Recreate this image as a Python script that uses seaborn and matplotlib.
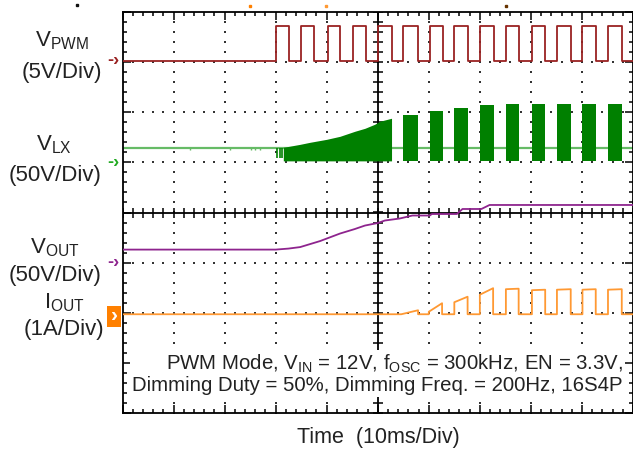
"""
Oscilloscope capture: PWM dimming start-up (VPWM, VLX, VOUT, IOUT).
Time axis in ms (10 ms/div), vertical axis in screen divisions.
"""
import numpy as np
import pandas as pd
import matplotlib
matplotlib.use('Agg')
import matplotlib.pyplot as plt
import matplotlib.transforms as mtransforms
from matplotlib.patches import Rectangle
from matplotlib.ticker import MultipleLocator
import seaborn as sns

# ============================================================================
# DATA (read off the capture)
# ============================================================================

# VPWM (5V/div): pulse edges in ms, levels in div
PWM_RISE_MS = [30.0, 35.0, 40.2, 45.1, 50.0, 54.9, 60.2, 65.0, 70.1, 75.2, 80.3, 85.2, 90.0, 95.1]
PWM_FALL_MS = [32.6, 37.5, 42.6, 47.7, 52.7, 57.8, 62.7, 67.6, 72.7, 77.7, 82.8, 87.9, 92.8, 97.9]
PWM_LOW = 3.03
PWM_HIGH = 3.73
PWM_GND = 3.03

# VLX (50V/div)
LX_GND = 1.0
LX_IDLE = 1.29
LX_FLOOR = 1.03
LX_SS_T = [31.5, 34.8, 36.7, 40.0, 42.6, 45.5, 47.5, 49.4, 50.4, 52.7]
LX_SS_TOP = [1.30, 1.36, 1.40, 1.46, 1.52, 1.62, 1.68, 1.76, 1.82, 1.88]
LX_BURST_START = [54.9, 60.2, 65.0, 70.1, 75.2, 80.3, 85.2, 90.0, 95.1]
LX_BURST_END = [57.8, 62.7, 67.6, 72.7, 77.7, 82.8, 87.9, 92.8, 97.8]
LX_BURST_TOP = [1.94, 2.02, 2.08, 2.14, 2.16, 2.16, 2.16, 2.16, 2.16]
LX_SPIKE_MS = [30.2, 30.9, 31.2]
LX_GLITCH_MS = [13.3, 21.1, 25.2, 25.9, 27.0]

# VOUT (50V/div)
VOUT_GND = -1.0
VOUT_T = [0, 30.0, 32.5, 34.8, 38.7, 42.6, 45.5, 47.5, 50.0, 51.4, 54.3, 56.8,
          60.2, 60.6, 65.5, 66.6, 70.3, 71.9, 100]
VOUT_V = [-0.74, -0.74, -0.72, -0.69, -0.57, -0.42, -0.33, -0.26, -0.21, -0.16, -0.12, -0.06,
          -0.06, -0.03, -0.03, 0.07, 0.07, 0.15, 0.15]

# IOUT (1A/div)
IOUT_GND = -2.04
IOUT_BASE = -2.03
IOUT_START = [54.6, 60.0, 65.0, 70.0, 75.1, 80.2, 85.1, 90.1, 95.1]
IOUT_END = [57.9, 62.6, 67.6, 72.6, 77.6, 82.8, 87.8, 92.7, 97.8]
IOUT_TOP_START = [-2.03, -1.98, -1.79, -1.64, -1.53, -1.55, -1.54, -1.54, -1.54]
IOUT_TOP_END = [-1.95, -1.81, -1.68, -1.51, -1.52, -1.54, -1.53, -1.53, -1.53]

# ============================================================================
# BUILD TRACES
# ============================================================================

t_pwm, v_pwm = [0.0], [PWM_LOW]
for r, f in zip(PWM_RISE_MS, PWM_FALL_MS):
    t_pwm += [r, r, f, f]
    v_pwm += [PWM_LOW, PWM_HIGH, PWM_HIGH, PWM_LOW]
t_pwm.append(100.0)
v_pwm.append(PWM_LOW)
df_pwm = pd.DataFrame({'t': t_pwm, 'v': v_pwm})

t_i, v_i = [0.0], [IOUT_BASE]
for s, e, a, b in zip(IOUT_START, IOUT_END, IOUT_TOP_START, IOUT_TOP_END):
    t_i += [s, s, e, e]
    v_i += [IOUT_BASE, a, b, IOUT_BASE]
t_i.append(100.0)
v_i.append(IOUT_BASE)
df_iout = pd.DataFrame({'t': t_i, 'v': v_i})

df_vout = pd.DataFrame({'t': VOUT_T, 'v': VOUT_V})

# ============================================================================
# FIGURE
# ============================================================================

sns.set_style('white')
plt.rcParams['font.family'] = ['Liberation Sans', 'DejaVu Sans']
plt.rcParams['mathtext.fontset'] = 'custom'
plt.rcParams['mathtext.rm'] = 'Liberation Sans'
plt.rcParams['mathtext.it'] = 'Liberation Sans:italic'
plt.rcParams['mathtext.bf'] = 'Liberation Sans:bold'

W, H = 633, 453
fig = plt.figure(figsize=(W / 100, H / 100), dpi=100)
L, R, T, B = 122.5, 633.0, 12.0, 413.0
ax = fig.add_axes([L / W, 1 - B / H, (R - L) / W, (B - T) / H])
ax.set_xlim(0, 100)
ax.set_ylim(-4, 4)


def px(x, y):
    return x / W, 1 - y / H


# grid dots + centre cross
minor_x = np.arange(0, 100.01, 2)
minor_y = np.arange(-4, 4.01, 0.2)
for xv in range(10, 100, 10):
    if xv != 50:
        ax.scatter(np.full(len(minor_y), xv), minor_y, s=1.6, marker='s',
                   color='#333333', linewidths=0, zorder=1)
for yv in range(-3, 4):
    if yv != 0:
        ax.scatter(minor_x, np.full(len(minor_x), yv), s=1.6, marker='s',
                   color='#333333', linewidths=0, zorder=1)
ax.axhline(0, color='black', lw=1.3, zorder=1)
ax.axvline(50, color='black', lw=1.3, zorder=1)
ax.plot(minor_x, np.zeros(len(minor_x)), ls='none', marker='|', ms=7,
        mew=1.1, color='black', zorder=1)
ax.plot(np.full(len(minor_y), 50), minor_y, ls='none', marker='_', ms=7,
        mew=1.1, color='black', zorder=1)

# border ticks
ax.xaxis.set_major_locator(MultipleLocator(10))
ax.xaxis.set_minor_locator(MultipleLocator(2))
ax.yaxis.set_major_locator(MultipleLocator(1))
ax.yaxis.set_minor_locator(MultipleLocator(0.2))
ax.tick_params(which='both', direction='in', top=True, right=True, bottom=True, left=True,
               labelbottom=False, labelleft=False, color='black', width=1.1)
ax.tick_params(which='major', length=6)
ax.tick_params(which='minor', length=3.2)
for sp in ax.spines.values():
    sp.set_color('black')
    sp.set_linewidth(1.3)

# VLX
ax.axhline(LX_IDLE, color='#66BB66', lw=1.6, zorder=2)
ax.vlines(LX_GLITCH_MS, LX_IDLE - 0.05, LX_IDLE + 0.02, color='#66BB66', lw=1, zorder=2)
ax.vlines(LX_SPIKE_MS, LX_FLOOR + 0.05, LX_IDLE, color='#008000', lw=1.2, zorder=3)
ax.fill_between(LX_SS_T, LX_FLOOR, LX_SS_TOP, color='#008000', lw=0, zorder=3)
for s, e, top in zip(LX_BURST_START, LX_BURST_END, LX_BURST_TOP):
    ax.fill_between([s, e], LX_FLOOR, top, color='#008000', lw=0, zorder=3)

# VPWM, VOUT, IOUT
sns.lineplot(data=df_pwm, x='t', y='v', ax=ax, color='#9A2222', lw=1.3,
             estimator=None, sort=False, zorder=4)
sns.lineplot(data=df_vout, x='t', y='v', ax=ax, color='#8E248E', lw=1.3,
             estimator=None, sort=False, zorder=4)
sns.lineplot(data=df_iout, x='t', y='v', ax=ax, color='#FF9933', lw=1.3,
             estimator=None, sort=False, zorder=4)
ax.set_xlabel('')
ax.set_ylabel('')

# channel ground markers
blend = mtransforms.blended_transform_factory(ax.transAxes, ax.transData)
mx = (113 - L) / (R - L)
for gnd, col in [(PWM_GND, '#9A2222'), (LX_GND, '#22AA22'), (VOUT_GND, '#8E248E')]:
    ax.text(mx, gnd, '-›', transform=blend, color=col, ha='center', va='center',
            fontsize=13, fontweight='bold', clip_on=False)
fig.add_artist(Rectangle(px(107, 327), 14 / W, 21 / H, facecolor='#FF8000',
                         edgecolor='none', transform=fig.transFigure))
fig.text(*px(114, 316), '›', color='white', ha='center', va='center',
         fontsize=15, fontweight='bold')

# channel labels
labels = [
    (62, 41, r'V$_{\mathrm{PWM}}$'), (62, 73, '(5V/Div)'),
    (54, 145, r'V$_{\mathrm{LX}}$'), (55, 175, '(50V/Div)'),
    (55, 248, r'V$_{\mathrm{OUT}}$'), (55, 276, '(50V/Div)'),
    (64, 303, r'I$_{\mathrm{OUT}}$'), (64, 329, '(1A/Div)'),
]
for x, y, s in labels:
    fig.text(*px(x, y), s, ha='center', va='center', fontsize=16, color='#222222')

# conditions box
fig.text(*px(623, 374),
         'PWM Mode, V$_{\\mathrm{IN}}$ = 12V, f$_{\\mathrm{OSC}}$ = 300kHz, EN = 3.3V,\n'
         'Dimming Duty = 50%, Dimming Freq. = 200Hz, 16S4P',
         ha='right', va='center', multialignment='right', fontsize=14.7,
         color='#222222', linespacing=1.05,
         bbox=dict(facecolor='white', edgecolor='none', pad=1.5))

fig.text(*px(378, 438), 'Time  (10ms/Div)', ha='center', va='center',
         fontsize=15.5, color='#222222')

# small trigger marks above the screen
for x, y, col in [(77, 5, '#111111'), (250, 6, '#FF8000'), (326, 6, '#FF9933'), (506, 6, '#663300')]:
    fig.add_artist(plt.Line2D([x / W], [1 - y / H], marker='s', ms=1.5,
                              color=col, transform=fig.transFigure))

fig.savefig('out.png', dpi=100)
plt.close(fig)
